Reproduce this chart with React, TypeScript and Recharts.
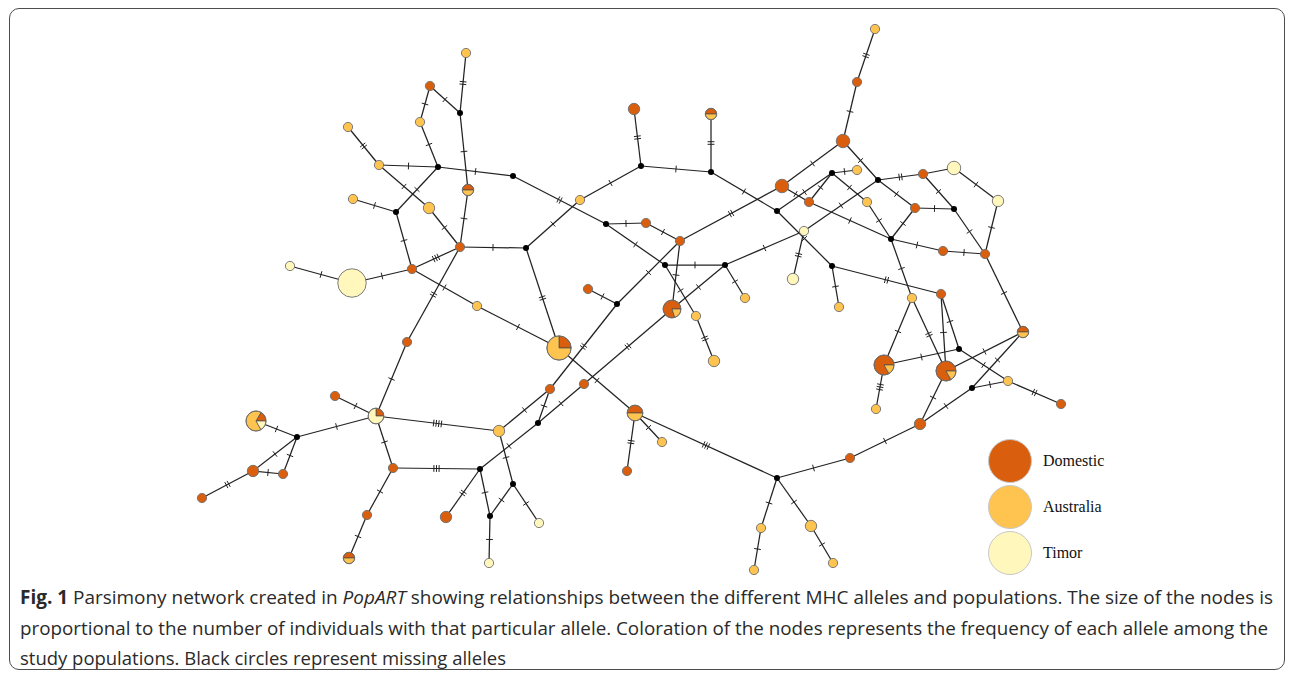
import React from 'react'
import { ScatterChart, Scatter, XAxis, YAxis, Sector } from 'recharts'

const W = 1295
const H = 674

const populations = ['Domestic', 'Australia', 'Timor']
const popColors = ['#d95f0e', '#fec44f', '#fff7bc']

// allele id, x, y, then individuals per population (Domestic, Australia, Timor)
const alleles: [string, number, number, number, number, number][] = [
  ['a1', 466, 53, 0, 1, 0],
  ['a2', 430, 86, 1, 0, 0],
  ['a3', 420, 122, 0, 1, 0],
  ['a4', 348, 127, 0, 1, 0],
  ['a5', 379, 165, 0, 1, 0],
  ['a6', 468, 190, 1, 1, 0],
  ['a7', 353, 199, 0, 1, 0],
  ['a8', 429, 208, 0, 2, 0],
  ['a9', 460, 247, 1, 0, 0],
  ['a10', 412, 269, 1, 0, 0],
  ['a11', 290, 266, 0, 0, 1],
  ['a12', 352, 283, 0, 0, 10],
  ['a13', 477, 306, 0, 1, 0],
  ['a14', 407, 342, 1, 0, 0],
  ['a15', 335, 396, 1, 0, 0],
  ['a16', 376, 416, 1, 0, 3],
  ['a17', 256, 421, 1, 4, 1],
  ['a18', 253, 471, 2, 0, 0],
  ['a19', 283, 474, 1, 0, 0],
  ['a20', 202, 498, 1, 0, 0],
  ['a21', 393, 468, 1, 0, 0],
  ['a22', 367, 515, 1, 0, 0],
  ['a23', 446, 517, 2, 0, 0],
  ['a24', 349, 558, 1, 1, 0],
  ['a25', 499, 431, 0, 2, 0],
  ['a26', 539, 523, 0, 0, 1],
  ['a27', 489, 563, 0, 0, 1],
  ['a28', 550, 389, 1, 0, 0],
  ['a29', 584, 384, 1, 0, 0],
  ['a30', 588, 289, 1, 0, 0],
  ['a31', 559, 348, 2, 6, 0],
  ['a32', 580, 200, 0, 1, 0],
  ['a33', 634, 109, 2, 0, 0],
  ['a34', 711, 114, 1, 1, 0],
  ['a35', 646, 223, 1, 0, 0],
  ['a36', 680, 241, 1, 0, 0],
  ['a37', 672, 309, 4, 1, 0],
  ['a38', 696, 316, 0, 1, 0],
  ['a39', 714, 361, 0, 2, 0],
  ['a40', 745, 298, 0, 1, 0],
  ['a41', 635, 413, 2, 2, 0],
  ['a42', 662, 442, 0, 1, 0],
  ['a43', 627, 471, 1, 0, 0],
  ['a44', 761, 528, 0, 1, 0],
  ['a45', 754, 570, 0, 1, 0],
  ['a46', 811, 526, 0, 2, 0],
  ['a47', 833, 563, 0, 1, 0],
  ['a48', 850, 458, 1, 0, 0],
  ['a49', 920, 424, 2, 0, 0],
  ['a50', 876, 409, 0, 1, 0],
  ['a51', 884, 365, 5, 1, 0],
  ['a52', 946, 371, 5, 1, 0],
  ['a53', 1008, 381, 0, 1, 0],
  ['a54', 1061, 404, 1, 0, 0],
  ['a55', 1023, 332, 1, 1, 0],
  ['a56', 941, 294, 1, 0, 0],
  ['a57', 912, 298, 0, 1, 0],
  ['a58', 943, 251, 1, 0, 0],
  ['a59', 985, 254, 1, 0, 0],
  ['a60', 915, 208, 1, 0, 0],
  ['a61', 923, 174, 1, 0, 0],
  ['a62', 954, 168, 0, 0, 3],
  ['a63', 998, 201, 0, 0, 2],
  ['a64', 843, 141, 3, 0, 0],
  ['a65', 857, 82, 1, 0, 0],
  ['a66', 875, 29, 0, 1, 0],
  ['a67', 782, 186, 3, 0, 0],
  ['a68', 809, 202, 1, 0, 0],
  ['a69', 857, 170, 0, 1, 0],
  ['a70', 867, 202, 0, 1, 0],
  ['a71', 804, 231, 0, 0, 1],
  ['a72', 793, 279, 0, 0, 2],
  ['a73', 839, 307, 0, 1, 0],
]

// missing (inferred) alleles
const missing: [string, number, number][] = [
  ['m1', 460, 113], ['m2', 438, 167], ['m3', 396, 212], ['m4', 297, 437],
  ['m5', 480, 469], ['m6', 538, 423], ['m7', 513, 484], ['m8', 490, 516],
  ['m9', 617, 304], ['m10', 526, 248], ['m11', 641, 166], ['m12', 711, 172],
  ['m13', 513, 176], ['m14', 606, 224], ['m15', 665, 265], ['m16', 725, 265],
  ['m17', 777, 478], ['m18', 959, 349], ['m19', 972, 388], ['m20', 891, 239],
  ['m21', 954, 209], ['m22', 878, 180], ['m23', 832, 173], ['m24', 777, 211],
  ['m25', 832, 266],
]

// from, to, number of mutations (hatch marks)
const links: [string, string, number][] = [
  ['a1', 'm1', 2], ['a2', 'm1', 1], ['a2', 'a3', 1], ['a3', 'm2', 1],
  ['a4', 'a5', 2], ['a5', 'm2', 1], ['m1', 'a6', 1], ['m2', 'm13', 1],
  ['a5', 'a8', 1], ['m2', 'm3', 1], ['a7', 'm3', 1], ['a6', 'a9', 1],
  ['a8', 'a9', 1], ['m3', 'a10', 1], ['a10', 'a9', 3], ['a11', 'a12', 1],
  ['a12', 'a10', 1], ['a10', 'a13', 1], ['a9', 'a14', 2], ['a14', 'a16', 1],
  ['a15', 'a16', 1], ['a17', 'm4', 1], ['m4', 'a16', 1], ['m4', 'a18', 1],
  ['m4', 'a19', 1], ['a18', 'a19', 1], ['a18', 'a20', 2], ['a16', 'a21', 1],
  ['a16', 'a25', 4], ['a21', 'm5', 3], ['a21', 'a22', 1], ['a22', 'a24', 1],
  ['m5', 'a23', 2], ['a25', 'm7', 1], ['a25', 'a28', 1], ['m6', 'a28', 1],
  ['a28', 'm9', 2], ['m9', 'a36', 1], ['a30', 'm9', 1], ['m5', 'm6', 1],
  ['m6', 'a29', 1], ['a29', 'a37', 2], ['m5', 'm8', 1], ['m7', 'm8', 1],
  ['m7', 'a26', 1], ['m8', 'a27', 1], ['a41', 'a43', 2], ['a41', 'a42', 1],
  ['a41', 'm17', 3], ['a31', 'a41', 1], ['a31', 'a13', 1], ['a31', 'm10', 2],
  ['m10', 'a9', 1], ['m10', 'a32', 1], ['a32', 'm11', 1], ['m11', 'a33', 2],
  ['m11', 'm12', 1], ['m12', 'a34', 2], ['m13', 'm14', 2], ['m14', 'a35', 1],
  ['a35', 'a36', 1], ['m14', 'm15', 1], ['m15', 'm16', 1], ['a36', 'a37', 1],
  ['m15', 'a38', 1], ['a38', 'a39', 2], ['m16', 'a40', 1], ['a37', 'm16', 1],
  ['a36', 'a67', 2], ['m12', 'm24', 1], ['a67', 'a64', 1], ['a64', 'a65', 1],
  ['a65', 'a66', 2], ['a64', 'm22', 1], ['m22', 'a61', 2], ['a61', 'a62', 0],
  ['a62', 'a63', 1], ['a63', 'a59', 1], ['a61', 'm21', 1], ['a60', 'm21', 1],
  ['m22', 'a60', 1], ['m21', 'a59', 1], ['a60', 'm20', 1], ['m20', 'a58', 1],
  ['a58', 'a59', 1], ['m20', 'a70', 1], ['a70', 'm23', 1], ['m23', 'a69', 1],
  ['m23', 'a68', 1], ['a67', 'a68', 1], ['a68', 'm20', 1], ['m16', 'a71', 1],
  ['a71', 'm22', 1], ['m24', 'm23', 1], ['a71', 'a72', 2], ['m24', 'm25', 1],
  ['m25', 'a73', 1], ['m25', 'a56', 2], ['m20', 'a57', 1], ['a57', 'a51', 1],
  ['a57', 'a52', 2], ['a56', 'a52', 1], ['a56', 'm18', 1], ['a51', 'm18', 1],
  ['a52', 'a55', 1], ['m18', 'a53', 1], ['a53', 'a54', 2], ['a53', 'm19', 1],
  ['m19', 'a55', 1], ['a55', 'a59', 1], ['m19', 'a49', 1], ['a52', 'a49', 1],
  ['a51', 'a50', 3], ['a49', 'a48', 1], ['a48', 'm17', 1], ['m17', 'a44', 1],
  ['a44', 'a45', 1], ['m17', 'a46', 1], ['a46', 'a47', 1],
]

const captionLines = [
  [
    { text: 'Fig. 1', weight: 700, style: 'normal' },
    { text: ' Parsimony network created in ', weight: 400, style: 'normal' },
    { text: 'PopART', weight: 400, style: 'italic' },
    { text: ' showing relationships between the different MHC alleles and populations. The size of the nodes is', weight: 400, style: 'normal' },
  ],
  [{ text: 'proportional to the number of individuals with that particular allele. Coloration of the nodes represents the frequency of each allele among the', weight: 400, style: 'normal' }],
  [{ text: 'study populations. Black circles represent missing alleles', weight: 400, style: 'normal' }],
]
const captionWidths = [1253, 1248, 486]

type NodeDatum = { id: string; x: number; y: number; counts: number[]; n: number }

const nodes: NodeDatum[] = [
  ...alleles.map(([id, x, y, d, a, t]) => ({ id, x, y, counts: [d, a, t], n: d + a + t })),
  ...missing.map(([id, x, y]) => ({ id, x, y, counts: [0, 0, 0], n: 0 })),
]
const byId: Record<string, NodeDatum> = {}
nodes.forEach(nd => { byId[nd.id] = nd })

const edgeData = links.map(([from, to, muts]) => ({
  pts: [{ x: byId[from].x, y: byId[from].y }, { x: byId[to].x, y: byId[to].y }],
  muts,
}))

function EdgeLine({ points, muts }: { points: { x: number; y: number }[]; muts: number }) {
  if (!points || points.length < 2) return null
  const [p, q] = points
  const dx = q.x - p.x
  const dy = q.y - p.y
  const len = Math.hypot(dx, dy) || 1
  const ux = dx / len
  const uy = dy / len
  const nx = -uy
  const ny = ux
  const mx = (p.x + q.x) / 2
  const my = (p.y + q.y) / 2
  const marks = []
  for (let k = 0; k < muts; k++) {
    const off = (k - (muts - 1) / 2) * 2.6
    const cx = mx + ux * off
    const cy = my + uy * off
    marks.push(
      <line key={k} x1={cx - nx * 3.4} y1={cy - ny * 3.4} x2={cx + nx * 3.4} y2={cy + ny * 3.4}
        stroke="#222" strokeWidth={1} />
    )
  }
  return (
    <g>
      <line x1={p.x} y1={p.y} x2={q.x} y2={q.y} stroke="#222" strokeWidth={1.25} />
      {marks}
    </g>
  )
}

const noDot = () => <g />

function NodeShape(props: any) {
  const { cx, cy, payload } = props
  if (payload.n === 0) return <circle cx={cx} cy={cy} r={3} fill="#000" />
  const r = 3.55 + 1.07 * payload.n
  const parts = payload.counts
    .map((c: number, i: number) => ({ c, i }))
    .filter((p: { c: number }) => p.c > 0)
  if (parts.length === 1) {
    return <circle cx={cx} cy={cy} r={r} fill={popColors[parts[0].i]} stroke="#6e6e6e" strokeWidth={0.9} />
  }
  let angle = 0
  return (
    <g>
      {parts.map((p: { c: number; i: number }) => {
        const sweep = (360 * p.c) / payload.n
        const s = (
          <Sector key={p.i} cx={cx} cy={cy} innerRadius={0} outerRadius={r}
            startAngle={angle} endAngle={angle + sweep}
            fill={popColors[p.i]} stroke="#4a4a4a" strokeWidth={0.7} />
        )
        angle += sweep
        return s
      })}
      <circle cx={cx} cy={cy} r={r} fill="none" stroke="#6e6e6e" strokeWidth={0.9} />
    </g>
  )
}

export default function App() {
  return (
    <div style={{ position: 'relative', width: W, height: H, background: '#fff', overflow: 'hidden' }}>
      <style>{'body{margin:0}'}</style>
      <div style={{
        position: 'absolute', left: 9, top: 8, width: 1276, height: 662,
        border: '1.3px solid #4d4d4d', borderRadius: 10, boxSizing: 'border-box',
      }} />
      <div style={{ position: 'absolute', left: 0, top: 0 }}>
        <ScatterChart width={W} height={H} margin={{ top: 0, right: 0, bottom: 0, left: 0 }}>
          <XAxis type="number" dataKey="x" domain={[0, W]} allowDataOverflow hide />
          <YAxis type="number" dataKey="y" domain={[0, H]} allowDataOverflow reversed hide />
          {edgeData.map((e, i) => (
            <Scatter key={'e' + i} data={e.pts} isAnimationActive={false} shape={noDot}
              line={(lp: any) => <EdgeLine points={lp.points} muts={e.muts} />} />
          ))}
          <Scatter data={nodes} isAnimationActive={false} shape={NodeShape} />
        </ScatterChart>
      </div>
      <svg width={W} height={H} style={{ position: 'absolute', left: 0, top: 0, pointerEvents: 'none' }}>
        {populations.map((name, i) => (
          <g key={name}>
            <circle cx={1010} cy={461 + i * 46} r={21.5} fill={popColors[i]} stroke="#c8c8c8" strokeWidth={1} />
            <text x={1043} y={466 + i * 46} fontFamily="'Liberation Serif', 'Times New Roman', serif"
              fontSize={16} fill="#111">{name}</text>
          </g>
        ))}
        {captionLines.map((line, li) => (
          <text key={li} x={20} y={604 + li * 30.5} fontFamily="'Open Sans', sans-serif" fontSize={19}
            fill="#2a2a2a" textLength={captionWidths[li]} lengthAdjust="spacingAndGlyphs">
            {line.map((seg, si) => (
              <tspan key={si} fontWeight={seg.weight} fontStyle={seg.style}>{seg.text}</tspan>
            ))}
          </text>
        ))}
      </svg>
    </div>
  )
}
